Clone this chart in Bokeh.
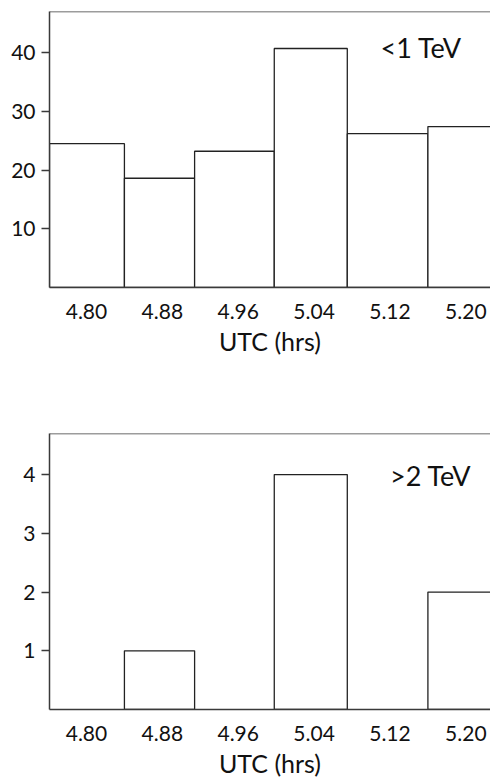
from bokeh.plotting import figure
from bokeh.models import Range1d, FixedTicker, Span, Label, ColumnDataSource
from bokeh.layouts import column
from bokeh.embed import file_html
from bokeh.resources import INLINE

# ---- data ----
bin_left = [4.761, 4.840, 4.914, 4.998, 5.075, 5.160]
bin_right = [4.840, 4.914, 4.998, 5.075, 5.160, 5.240]
counts_low = [24.5, 18.6, 23.2, 40.7, 26.2, 27.4]
counts_high = [0, 1, 0, 4, 0, 2]
x_ticks = [4.80, 4.88, 4.96, 5.04, 5.12, 5.20]
x_tick_labels = ["4.80", "4.88", "4.96", "5.04", "5.12", "5.20"]
y_ticks_low = [10, 20, 30, 40]
y_ticks_high = [1, 2, 3, 4]
label_low = "<1 TeV"
label_high = ">2 TeV"
x_title = "UTC (hrs)"

FONT = "Lato"
LINE = "#3a3a3a"


def make_panel(counts, yticks, ymax, label, lx, ly, height, top_b, bot_b):
    p = figure(width=490, height=height, output_backend="svg", toolbar_location=None,
               x_range=Range1d(4.761, 5.226), y_range=Range1d(0, ymax),
               min_border_left=49, min_border_right=0,
               min_border_top=top_b, min_border_bottom=bot_b)
    p.outline_line_color = None
    p.grid.visible = False
    p.background_fill_color = "white"
    p.border_fill_color = "white"

    keep = [i for i, c in enumerate(counts) if c > 0]
    src = ColumnDataSource(dict(
        left=[bin_left[i] for i in keep],
        right=[bin_right[i] for i in keep],
        top=[counts[i] for i in keep],
        bottom=[0 for i in keep],
    ))
    p.quad(left="left", right="right", top="top", bottom="bottom", source=src,
           fill_color="white", line_color="#222222", line_width=1.3)

    p.add_layout(Span(location=ymax, dimension="width", line_color=LINE, line_width=1.5))

    xa = p.xaxis[0]
    xa.ticker = FixedTicker(ticks=x_ticks)
    xa.major_label_overrides = {t: s for t, s in zip(x_ticks, x_tick_labels)}
    xa.major_tick_line_color = None
    xa.minor_tick_line_color = None
    xa.axis_line_color = LINE
    xa.axis_line_width = 1.5
    xa.major_label_text_font = FONT
    xa.major_label_text_font_size = "21px"
    xa.major_label_text_color = "#111111"
    xa.major_label_standoff = 10
    xa.axis_label = x_title
    xa.axis_label_text_font = FONT
    xa.axis_label_text_font_size = "25px"
    xa.axis_label_text_font_style = "normal"
    xa.axis_label_text_color = "#111111"
    xa.axis_label_standoff = 4

    ya = p.yaxis[0]
    ya.ticker = FixedTicker(ticks=yticks)
    ya.minor_tick_line_color = None
    ya.major_tick_out = 8
    ya.major_tick_in = 0
    ya.major_tick_line_color = LINE
    ya.major_tick_line_width = 1.3
    ya.axis_line_color = LINE
    ya.axis_line_width = 1.5
    ya.major_label_text_font = FONT
    ya.major_label_text_font_size = "21px"
    ya.major_label_text_color = "#111111"
    ya.major_label_standoff = 6

    p.add_layout(Label(x=lx, y=ly, text=label, text_font=FONT, text_font_size="27px",
                       text_color="#111111", text_baseline="alphabetic", text_align="left"))
    return p


p1 = make_panel(counts_low, y_ticks_low, 47.0, label_low, 5.110, 40.9, 395, 11, 108)
p2 = make_panel(counts_high, y_ticks_high, 4.70, label_high, 5.120, 3.99, 388, 38, 74)

layout = column(p1, p2, spacing=0)
open("out.html", "w").write(file_html(layout, INLINE))
